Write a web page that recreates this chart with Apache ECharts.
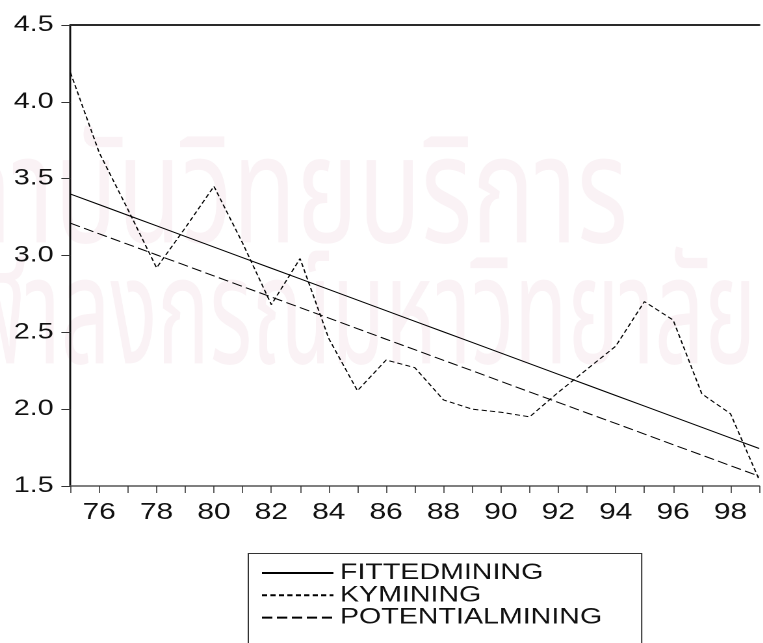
<!DOCTYPE html>
<html>
<head>
<meta charset="utf-8">
<title>Mining: fitted, actual and potential</title>
<script src="https://cdn.jsdelivr.net/npm/echarts@6/dist/echarts.min.js"></script>
<style>
  html, body { margin: 0; padding: 0; background: #fff; overflow: hidden; height: 643px; }
  /* The graph is drawn on a narrower canvas and widened, giving the broad lettering of the graph style;
     the canvas runs past the bottom of the page so the legend frame stays open there */
  #chart { width: 587px; height: 700px; transform: scaleX(1.3); transform-origin: 0 0; }
</style>
</head>
<body>
<div id="chart"></div>
<script>
// Observation years (annual, 1975-1999)
const years = [1975, 1976, 1977, 1978, 1979, 1980, 1981, 1982, 1983, 1984, 1985, 1986,
  1987, 1988, 1989, 1990, 1991, 1992, 1993, 1994, 1995, 1996, 1997, 1998, 1999];

// Series values
const fittedMining = [3.400, 3.331, 3.262, 3.193, 3.124, 3.055, 2.986, 2.917, 2.848, 2.779,
  2.710, 2.641, 2.572, 2.503, 2.434, 2.365, 2.296, 2.227, 2.158, 2.089, 2.020, 1.951, 1.882,
  1.813, 1.744];
const kyMining = [4.19, 3.67, 3.30, 2.92, 3.18, 3.45, 3.08, 2.68, 2.98, 2.46, 2.12, 2.32,
  2.27, 2.06, 2.00, 1.98, 1.95, 2.11, 2.26, 2.41, 2.70, 2.58, 2.10, 1.97, 1.54];
const potentialMining = [3.210, 3.141, 3.073, 3.004, 2.936, 2.867, 2.798, 2.730, 2.661,
  2.593, 2.524, 2.455, 2.387, 2.318, 2.250, 2.181, 2.112, 2.044, 1.975, 1.907, 1.838, 1.769,
  1.701, 1.632, 1.564];

const seriesNames = ['FITTEDMINING', 'KYMINING', 'POTENTIALMINING'];

// Tick labels
const xTickYears = [1976, 1978, 1980, 1982, 1984, 1986, 1988, 1990, 1992, 1994, 1996, 1998];
const xTickLabels = ['76', '78', '80', '82', '84', '86', '88', '90', '92', '94', '96', '98'];
const yTickValues = [1.5, 2.0, 2.5, 3.0, 3.5, 4.0, 4.5];
const yTickLabels = ['1.5', '2.0', '2.5', '3.0', '3.5', '4.0', '4.5'];

// Background watermark lines
const watermarkLines = ['สถาบันวิทยบริการ', 'จุฬาลงกรณ์มหาวิทยาลัย'];

const FONT = '"Liberation Sans", Arial, Helvetica, sans-serif';
const THAI_FONT = '"Noto Sans Thai", "Noto Sans", "DejaVu Sans", sans-serif';
const pairs = arr => years.map((y, i) => [y, arr[i]]);

const chart = echarts.init(document.getElementById('chart'), null, {
  renderer: 'canvas', devicePixelRatio: 2
});

chart.setOption({
  animation: false,
  backgroundColor: '#ffffff',
  graphic: [
    {
      type: 'text', left: -85, top: 137, z: -10, silent: true, scaleX: 0.535,
      style: { text: watermarkLines[0], font: '150px ' + THAI_FONT, fill: '#faf2f5' }
    },
    {
      type: 'text', left: -61, top: 258, z: -10, silent: true, scaleX: 0.447,
      style: { text: watermarkLines[1], font: '150px ' + THAI_FONT, fill: '#faf2f5' }
    },
    // Legend frame; its lower edge runs below the bottom of the page
    {
      type: 'rect', silent: true, z: 5,
      shape: { x: 191, y: 553.5, width: 302.6, height: 200 },
      style: { fill: 'none', stroke: '#333', lineWidth: 1 }
    }
  ],
  grid: { left: 54.2, right: -8.2, top: 25, bottom: 214, show: false },
  xAxis: [
    {
      type: 'value', min: 1975, max: 1999, interval: 1,
      axisLine: { show: true, lineStyle: { color: '#555', width: 1.5 } },
      axisTick: { show: true, inside: false, length: 7, lineStyle: { color: '#333', width: 0.8 } },
      axisLabel: {
        margin: 15, fontSize: 23, color: '#111', fontFamily: FONT,
        formatter: v => {
          const k = xTickYears.indexOf(v);
          return k >= 0 ? xTickLabels[k] : '';
        }
      },
      splitLine: { show: false }
    },
    {
      type: 'value', min: 1975, max: 1999, position: 'top',
      axisLine: { show: true, lineStyle: { color: '#2a2a2a', width: 2 } },
      axisTick: { show: false }, axisLabel: { show: false }, splitLine: { show: false }
    }
  ],
  yAxis: {
    type: 'value', min: 1.5, max: 4.5, interval: 0.5,
    axisLine: { show: true, lineStyle: { color: '#111', width: 1.5 } },
    axisTick: { show: true, inside: false, length: 7, lineStyle: { color: '#333', width: 1 } },
    axisLabel: {
      margin: 13, fontSize: 22, color: '#111', fontFamily: FONT,
      formatter: v => {
        const k = yTickValues.findIndex(t => Math.abs(t - v) < 1e-9);
        return k >= 0 ? yTickLabels[k] : '';
      }
    },
    splitLine: { show: false }
  },
  legend: {
    orient: 'vertical', left: 191, top: 553, height: 120,
    padding: [9, 20, 4, 9.5],
    itemWidth: 55, itemHeight: 1, itemGap: 0.3,
    itemStyle: { opacity: 0 },
    borderWidth: 0,
    textStyle: { fontSize: 22, lineHeight: 21, color: '#111', fontFamily: FONT },
    data: seriesNames
  },
  series: [
    {
      name: seriesNames[0], type: 'line', data: pairs(fittedMining),
      symbol: 'none', lineStyle: { color: '#000', width: 1, type: 'solid' }, itemStyle: { color: '#000' }
    },
    {
      name: seriesNames[1], type: 'line', data: pairs(kyMining),
      symbol: 'none', lineStyle: { color: '#000', width: 1, type: [4, 2.5] }, itemStyle: { color: '#000' }
    },
    {
      name: seriesNames[2], type: 'line', data: pairs(potentialMining),
      symbol: 'none', lineStyle: { color: '#000', width: 1, type: [8, 3.5] }, itemStyle: { color: '#000' }
    }
  ]
});
</script>
</body>
</html>
